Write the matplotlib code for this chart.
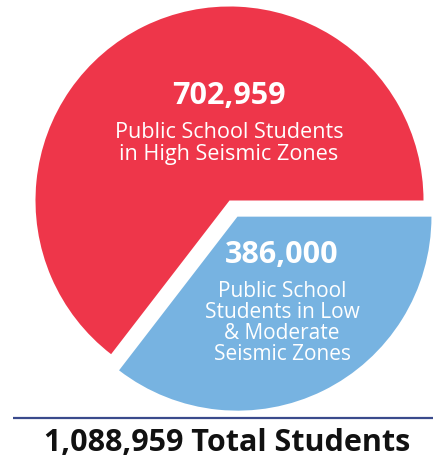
import matplotlib
matplotlib.use("Agg")
import matplotlib.pyplot as plt

# Data
categories = ["Low & Moderate Seismic Zones", "High Seismic Zones"]
students = [386000, 702959]
total = sum(students)
colors = ["#77B3E1", "#EE364A"]

W, H = 433, 460
fig = plt.figure(figsize=(W / 100, H / 100), dpi=100)
ax = fig.add_axes([0, 0, 1, 1])

cx, cy, r = 229.5, H - 201.5, 194
# matplotlib offsets exploded wedges in data units when radius != 1
ax.pie(students, colors=colors, startangle=0, counterclock=False,
       explode=[18, 0], radius=r, center=(cx, cy),
       wedgeprops=dict(linewidth=0))
ax.set_xlim(0, W)
ax.set_ylim(0, H)
ax.set_aspect("equal")
ax.axis("off")

font = "Open Sans"

def y(px):
    return H - px

# High seismic label
ax.text(229, y(104), f"{students[1]:,}", ha="center", va="baseline",
        color="white", fontsize=22, fontweight="bold", family=font)
for line, b in zip(["Public School Students", "in High Seismic Zones"], [138, 160]):
    ax.text(229, y(b), line, ha="center", va="baseline", color="white",
            fontsize=15.6, family=font)

# Low & moderate label
ax.text(282, y(263), f"{students[0]:,}", ha="center", va="baseline",
        color="white", fontsize=22, fontweight="bold", family=font)
for line, b in zip(["Public School", "Students in Low", "& Moderate", "Seismic Zones"],
                   [297, 318, 339, 360]):
    ax.text(282, y(b), line, ha="center", va="baseline", color="white",
            fontsize=15, family=font)

# Divider and total
ax.plot([13, W], [y(419), y(419)], color="#3A4A8C", linewidth=1.6,
        solid_capstyle="butt")
ax.text(227, y(451), f"{total:,} Total Students", ha="center", va="baseline",
        color="#111111", fontsize=22, fontweight="bold", family=font)

fig.savefig("out.png", dpi=100)
